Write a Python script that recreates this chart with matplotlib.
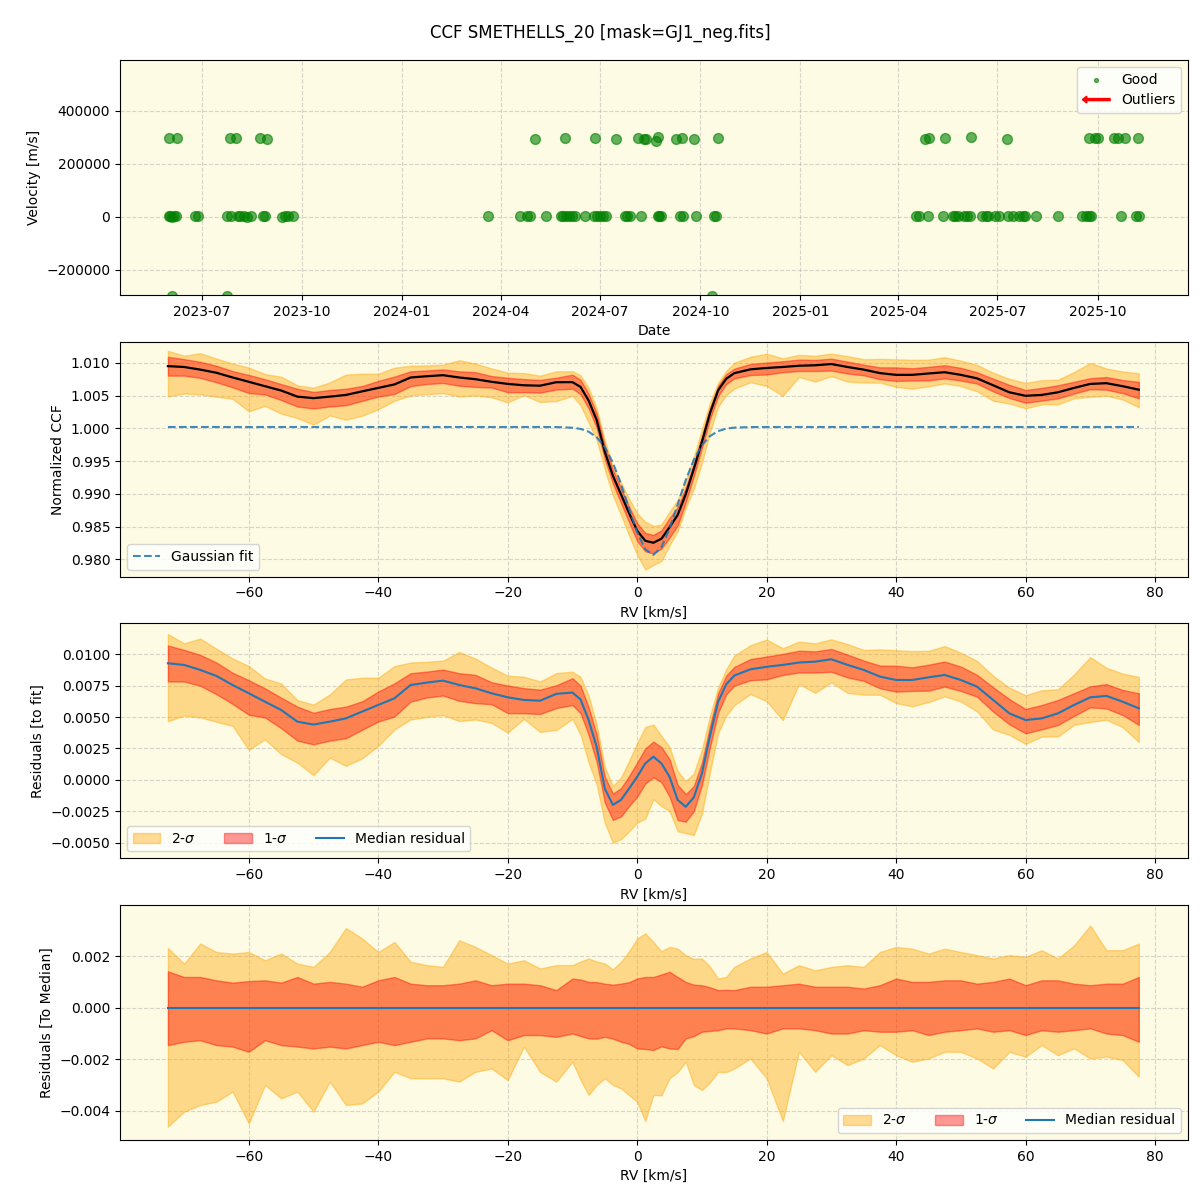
import numpy as np
import pandas as pd
import matplotlib
matplotlib.use("Agg")
import matplotlib.pyplot as plt
import matplotlib.dates as mdates
import matplotlib.patches as mpatches
from matplotlib.legend_handler import HandlerPatch

BG_COLOR = "#fdfbe3"

# --- time series of measured velocities ---
good_dates = [
    "2023-06-01", "2023-06-02", "2023-06-04", "2023-06-06", "2023-06-07",
    "2023-06-25", "2023-06-28", "2023-07-24", "2023-07-28", "2023-08-03",
    "2023-08-05", "2023-08-09", "2023-08-12", "2023-08-15", "2023-08-26",
    "2023-08-28", "2023-09-13", "2023-09-16", "2023-09-18", "2023-09-23",
    "2023-06-01", "2023-06-08", "2023-07-27", "2023-08-02", "2023-08-24",
    "2023-08-30", "2023-06-04", "2023-07-24",
    "2024-03-20", "2024-04-18", "2024-04-25", "2024-04-28", "2024-05-12",
    "2024-05-26", "2024-05-28", "2024-05-31", "2024-06-02", "2024-06-05",
    "2024-06-08", "2024-06-17", "2024-06-25", "2024-06-28", "2024-07-01",
    "2024-05-02", "2024-05-30", "2024-06-26",
    "2024-07-04", "2024-07-06", "2024-07-24", "2024-07-26", "2024-07-28",
    "2024-08-08", "2024-08-23", "2024-08-24", "2024-08-26", "2024-09-12",
    "2024-09-15", "2024-09-27", "2024-10-14", "2024-10-15",
    "2024-07-16", "2024-08-05", "2024-08-10", "2024-08-12", "2024-08-21",
    "2024-08-23", "2024-09-09", "2024-09-14", "2024-09-25", "2024-10-17",
    "2024-10-12",
    "2025-04-17", "2025-04-20", "2025-04-28", "2025-05-12", "2025-05-21",
    "2025-05-23", "2025-05-26", "2025-05-31", "2025-06-03", "2025-06-06",
    "2025-06-17", "2025-06-20", "2025-06-22", "2025-06-29", "2025-07-02",
    "2025-07-11", "2025-07-15", "2025-07-21", "2025-07-24", "2025-07-26",
    "2025-08-05", "2025-08-26", "2025-09-17", "2025-09-20", "2025-09-23",
    "2025-09-25", "2025-10-22", "2025-11-05", "2025-11-08",
    "2025-04-25", "2025-04-29", "2025-05-14", "2025-06-07", "2025-07-10",
    "2025-09-23", "2025-09-29", "2025-10-01", "2025-10-16", "2025-10-20",
    "2025-10-26", "2025-11-07",
]
good_velocities = [
    2000, 3000, 1000, 2500, 3000,
    1500, 3000, 4000, 3500, 4500,
    3000, 2000, 1000, 2500, 4000,
    3500, 1000, 3000, 4000, 3000,
    297000, 297000, 297000, 297000, 297000,
    293000, -300000, -300000,
    4000, 4000, 2000, 4500, 4000,
    2000, 3000, 4000, 3500, 2500,
    3000, 2000, 4000, 4500, 4000,
    293000, 297000, 297000,
    4000, 3500, 2500, 3500, 4000,
    4000, 3000, 3500, 4000, 2500,
    3000, 4000, 3500, 1500,
    293000, 297000, 293000, 292000, 285000,
    300000, 294000, 299000, 294000, 297000,
    -300000,
    4000, 4000, 4000, 4000, 3500,
    3000, 3500, 4000, 3000, 4000,
    3000, 4000, 4500, 4000, 3500,
    4000, 4000, 4000, 3000, 3500,
    4000, 4000, 3500, 3000, 3500,
    4000, 3500, 4000, 4000,
    293000, 296000, 297000, 300000, 293000,
    297000, 298000, 296000, 297000, 297000,
    297000, 297000,
]

# --- CCF profile: RV grid, median residual to the fit, percentile offsets ---
rv = [
    -72.5, -70.0, -67.5, -65.0, -62.5, -60.0, -57.5, -55.0, -52.5, -50.0,
    -47.5, -45.0, -42.5, -40.0, -37.5, -35.0, -32.5, -30.0, -27.5, -25.0,
    -22.5, -20.0, -17.5, -15.0, -12.5, -10.0, -8.75, -7.5, -6.25, -5.0,
    -3.75, -2.5, -1.25, 0.0, 1.25, 2.5, 3.75, 5.0, 6.25, 7.5,
    8.75, 10.0, 11.25, 12.5, 13.75, 15.0, 17.5, 20.0, 22.5, 25.0,
    27.5, 30.0, 32.5, 35.0, 37.5, 40.0, 42.5, 45.0, 47.5, 50.0,
    52.5, 55.0, 57.5, 60.0, 62.5, 65.0, 67.5, 70.0, 72.5, 75.0,
    77.5,
]
resid_median = [
    0.00928, 0.00915, 0.00875, 0.00827, 0.00755, 0.00689, 0.00622, 0.00556, 0.00463, 0.00440,
    0.00463, 0.00489, 0.00543, 0.00596, 0.00649, 0.00755, 0.00774, 0.00790, 0.00755, 0.00729,
    0.00689, 0.00657, 0.00636, 0.00630, 0.00684, 0.00695, 0.00640, 0.00476, 0.00260, -0.00070,
    -0.00200, -0.00160, -0.00070, 0.00024, 0.00130, 0.00184, 0.00130, 0.00024, -0.00160, -0.00215,
    -0.00140, 0.00050, 0.00350, 0.00620, 0.00760, 0.00830, 0.00880, 0.00900, 0.00915, 0.00934,
    0.00941, 0.00960, 0.00915, 0.00875, 0.00822, 0.00795, 0.00795, 0.00816, 0.00835, 0.00795,
    0.00742, 0.00636, 0.00529, 0.00476, 0.00489, 0.00529, 0.00596, 0.00657, 0.00668, 0.00622,
    0.00569,
]
# 2-sigma / 1-sigma band edges relative to the median
hi2 = [
    0.00233, 0.00172, 0.00250, 0.00217, 0.00211, 0.00217, 0.00185, 0.00211, 0.00172, 0.00159,
    0.00217, 0.00310, 0.00270, 0.00217, 0.00256, 0.00179, 0.00166, 0.00159, 0.00263, 0.00237,
    0.00205, 0.00172, 0.00185, 0.00153, 0.00166, 0.00166, 0.00180, 0.00192, 0.00180, 0.00172,
    0.00150, 0.00179, 0.00220, 0.00269, 0.00290, 0.00256, 0.00220, 0.00237, 0.00230, 0.00205,
    0.00190, 0.00192, 0.00160, 0.00114, 0.00120, 0.00159, 0.00192, 0.00217, 0.00133, 0.00166,
    0.00146, 0.00159, 0.00166, 0.00159, 0.00217, 0.00237, 0.00230, 0.00211, 0.00230, 0.00217,
    0.00205, 0.00192, 0.00205, 0.00198, 0.00224, 0.00192, 0.00243, 0.00320, 0.00224, 0.00224,
    0.00250,
]
hi1 = [
    0.00142, 0.00120, 0.00120, 0.00107, 0.00098, 0.00104, 0.00107, 0.00098, 0.00120, 0.00094,
    0.00101, 0.00094, 0.00082, 0.00107, 0.00120, 0.00094, 0.00088, 0.00088, 0.00094, 0.00107,
    0.00088, 0.00094, 0.00094, 0.00088, 0.00069, 0.00114, 0.00110, 0.00101, 0.00100, 0.00094,
    0.00090, 0.00094, 0.00100, 0.00114, 0.00120, 0.00120, 0.00130, 0.00140, 0.00120, 0.00101,
    0.00090, 0.00088, 0.00080, 0.00069, 0.00070, 0.00069, 0.00082, 0.00082, 0.00088, 0.00094,
    0.00082, 0.00082, 0.00082, 0.00075, 0.00088, 0.00114, 0.00101, 0.00101, 0.00107, 0.00107,
    0.00094, 0.00101, 0.00114, 0.00088, 0.00107, 0.00107, 0.00094, 0.00088, 0.00094, 0.00094,
    0.00120,
]
lo1 = [
    -0.00145, -0.00132, -0.00126, -0.00145, -0.00151, -0.00171, -0.00126, -0.00145, -0.00151, -0.00158,
    -0.00151, -0.00158, -0.00145, -0.00132, -0.00145, -0.00132, -0.00119, -0.00119, -0.00126, -0.00119,
    -0.00087, -0.00126, -0.00106, -0.00106, -0.00113, -0.00100, -0.00110, -0.00119, -0.00120, -0.00113,
    -0.00120, -0.00132, -0.00140, -0.00158, -0.00160, -0.00164, -0.00150, -0.00158, -0.00160, -0.00119,
    -0.00110, -0.00093, -0.00090, -0.00087, -0.00080, -0.00080, -0.00087, -0.00100, -0.00080, -0.00080,
    -0.00087, -0.00100, -0.00100, -0.00087, -0.00093, -0.00093, -0.00087, -0.00106, -0.00093, -0.00087,
    -0.00080, -0.00093, -0.00087, -0.00106, -0.00087, -0.00093, -0.00087, -0.00080, -0.00100, -0.00106,
    -0.00132,
]
lo2 = [
    -0.00462, -0.00404, -0.00378, -0.00365, -0.00326, -0.00450, -0.00300, -0.00352, -0.00326, -0.00404,
    -0.00287, -0.00378, -0.00372, -0.00326, -0.00249, -0.00274, -0.00274, -0.00274, -0.00287, -0.00249,
    -0.00236, -0.00281, -0.00151, -0.00249, -0.00287, -0.00210, -0.00280, -0.00339, -0.00300, -0.00274,
    -0.00300, -0.00313, -0.00340, -0.00365, -0.00440, -0.00339, -0.00340, -0.00274, -0.00250, -0.00210,
    -0.00300, -0.00320, -0.00290, -0.00249, -0.00250, -0.00236, -0.00197, -0.00274, -0.00440, -0.00171,
    -0.00249, -0.00184, -0.00223, -0.00197, -0.00145, -0.00184, -0.00210, -0.00197, -0.00171, -0.00171,
    -0.00197, -0.00236, -0.00171, -0.00190, -0.00145, -0.00184, -0.00158, -0.00197, -0.00190, -0.00203,
    -0.00268,
]

# Gaussian fit parameters
FIT_OFFSET = 1.0002
FIT_DEPTH = 0.0195
FIT_CENTER = 2.4
FIT_SIGMA = 3.85

RV_LIMITS = (-79.9, 85.1)


class HandlerArrow(HandlerPatch):
    def create_artists(self, legend, orig_handle, xdescent, ydescent,
                       width, height, fontsize, trans):
        arrow = mpatches.FancyArrow(
            width, 0.5 * height, -width, 0, width=1.5,
            length_includes_head=True, head_width=0.7 * height,
            head_length=0.45 * height, color="red",
        )
        arrow.set_transform(trans)
        return [arrow]


rv = np.array(rv)
resid = np.array(resid_median)
hi2, hi1, lo1, lo2 = map(np.array, (hi2, hi1, lo1, lo2))
fit = FIT_OFFSET - FIT_DEPTH * np.exp(-0.5 * ((rv - FIT_CENTER) / FIT_SIGMA) ** 2)
med = fit + resid

fig, axes = plt.subplots(4, 1, figsize=(12, 12))
fig.subplots_adjust(left=0.1, right=0.99, top=0.95, bottom=0.05, hspace=0.2)
fig.suptitle("CCF SMETHELLS_20 [mask=GJ1_neg.fits]", fontsize=12)

for ax in axes:
    ax.set_facecolor(BG_COLOR)
    ax.grid(True, linestyle="--", alpha=0.5)
    ax.set_axisbelow(True)

# panel 1: velocities vs time
ax = axes[0]
dates = pd.to_datetime(good_dates)
good = ax.scatter(dates, good_velocities, s=50, color="green", alpha=0.6)
ax.set_xlim(pd.Timestamp("2023-04-17"), pd.Timestamp("2025-12-23"))
ax.set_ylim(-294000, 592000)
ax.xaxis.set_major_locator(mdates.MonthLocator(bymonth=[1, 4, 7, 10]))
ax.xaxis.set_major_formatter(mdates.DateFormatter("%Y-%m"))
ax.set_xlabel("Date")
ax.set_ylabel("Velocity [m/s]")
outlier_proxy = mpatches.Patch(color="red")
ax.legend(handles=[good, outlier_proxy], labels=["Good", "Outliers"],
          loc="upper right", markerscale=0.4,
          handler_map={mpatches.Patch: HandlerArrow()})

# panel 2: normalized CCF
ax = axes[1]
ax.fill_between(rv, med + lo2, med + hi2, color="orange", alpha=0.4)
ax.fill_between(rv, med + lo1, med + hi1, color="red", alpha=0.4)
ax.plot(rv, med, color="black", lw=1.6)
ax.plot(rv, fit, "--", color="C0", alpha=0.85, lw=1.5, label="Gaussian fit")
ax.set_xlim(*RV_LIMITS)
ax.set_ylim(0.9774, 1.0132)
ax.set_xlabel("RV [km/s]")
ax.set_ylabel("Normalized CCF")
ax.legend(loc="lower left")

# panel 3: residuals to the fit
ax = axes[2]
ax.fill_between(rv, resid + lo2, resid + hi2, color="orange", alpha=0.4, label="2-$\\sigma$")
ax.fill_between(rv, resid + lo1, resid + hi1, color="red", alpha=0.4, label="1-$\\sigma$")
ax.plot(rv, resid, color="C0", lw=1.5, label="Median residual")
ax.set_xlim(*RV_LIMITS)
ax.set_ylim(-0.00625, 0.01245)
ax.set_xlabel("RV [km/s]")
ax.set_ylabel("Residuals [to fit]")
ax.legend(loc="lower left", ncol=3)

# panel 4: residuals to the median
ax = axes[3]
ax.fill_between(rv, lo2, hi2, color="orange", alpha=0.4, label="2-$\\sigma$")
ax.fill_between(rv, lo1, hi1, color="red", alpha=0.4, label="1-$\\sigma$")
ax.plot(rv, np.zeros_like(rv), color="C0", lw=1.5, label="Median residual")
ax.set_xlim(*RV_LIMITS)
ax.set_ylim(-0.00514, 0.00399)
ax.set_xlabel("RV [km/s]")
ax.set_ylabel("Residuals [To Median]")
ax.legend(loc="lower right", ncol=3)

fig.savefig("out.png", dpi=100)
